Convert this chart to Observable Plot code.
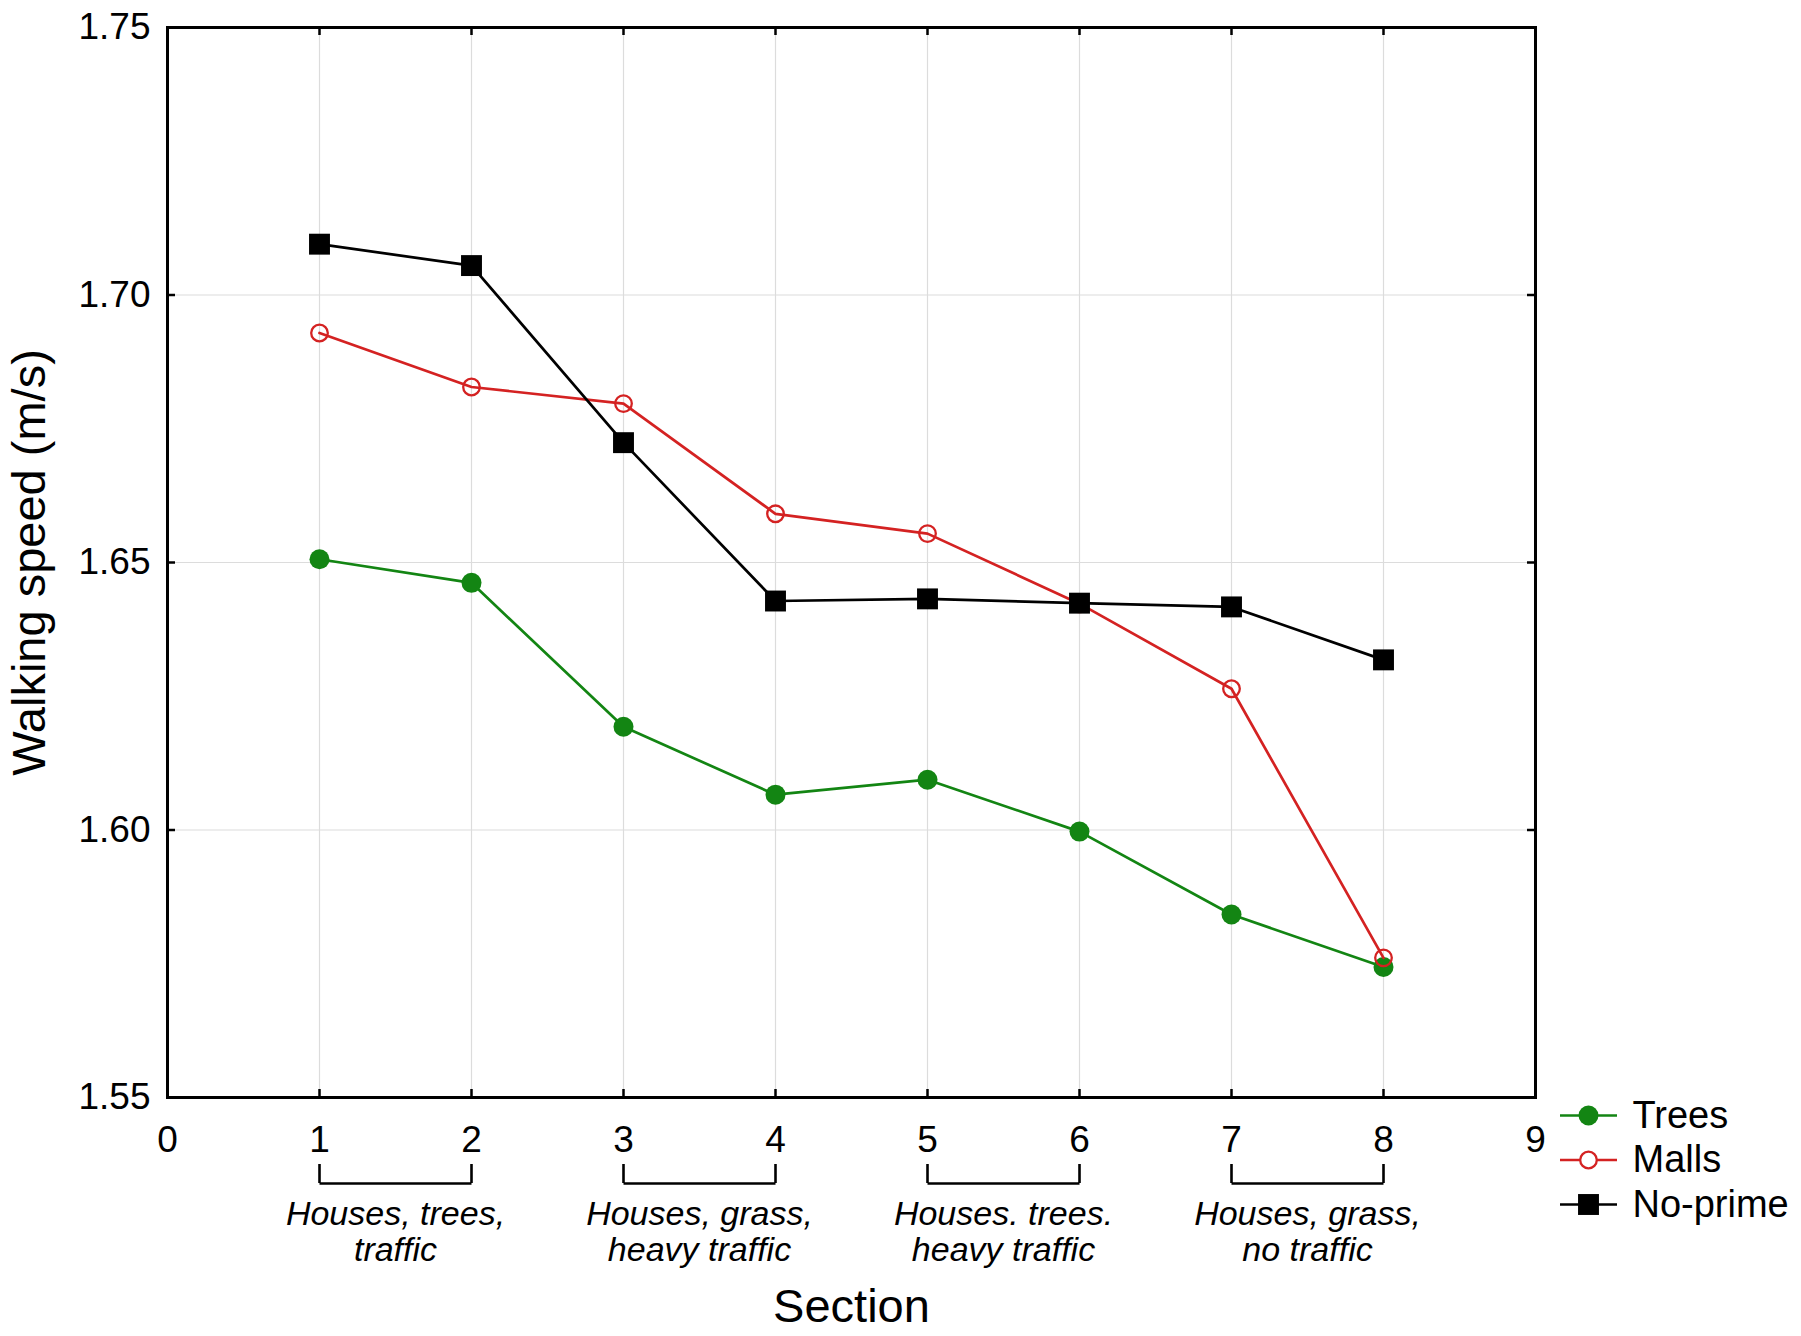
<!DOCTYPE html>
<html>
<head>
<meta charset="utf-8">
<script src="https://cdn.jsdelivr.net/npm/d3@7"></script>
<script src="https://cdn.jsdelivr.net/npm/@observablehq/plot@0.6"></script>
<style>
  html, body { margin: 0; padding: 0; background: #fff; }
</style>
</head>
<body>
<div id="chart"></div>
<script>
// ---- data ----
const sections = [1, 2, 3, 4, 5, 6, 7, 8];
const trees   = [1.6506, 1.6462, 1.6193, 1.6066, 1.6094, 1.5997, 1.5842, 1.5744];
const malls   = [1.6929, 1.6828, 1.6797, 1.6591, 1.6554, 1.6423, 1.6264, 1.5761];
const noPrime = [1.7095, 1.7055, 1.6724, 1.6428, 1.6432, 1.6424, 1.6417, 1.6318];
const seriesNames = ["Trees", "Malls", "No-prime"];
const xTicks = [0, 1, 2, 3, 4, 5, 6, 7, 8, 9];
const yTicks = [1.55, 1.60, 1.65, 1.70, 1.75];
const yGrid = [1.60, 1.65, 1.70];
const xGrid = [1, 2, 3, 4, 5, 6, 7, 8];
const groupFrom = [1, 3, 5, 7];
const groupTo = [2, 4, 6, 8];
const groupLabels = [
  "Houses, trees,\ntraffic",
  "Houses, grass,\nheavy traffic",
  "Houses. trees.\nheavy traffic",
  "Houses, grass,\nno traffic"
];
const xLabel = "Section";
const yLabel = "Walking speed (m/s)";

// ---- layout & styles ----
const W = 1801, H = 1336;
const mL = 167, mR = 266, mT = 27, mB = 239;
const fw = W - mL - mR, fh = H - mT - mB;
const FONT = "'Liberation Sans', Arial, Helvetica, sans-serif";
const seriesValues = [trees, malls, noPrime];
const seriesStyle = [
  {color: "#138513", symbol: "circle", fill: "#138513", r: 10, sw: 0},
  {color: "#d42222", symbol: "circle", fill: "none", r: 8.3, sw: 2.3},
  {color: "#000000", symbol: "square", fill: "#000000", r: 11.8, sw: 0}
];

const rows = seriesNames.map((name, i) =>
  sections.map((s, j) => ({series: name, section: s, speed: seriesValues[i][j]})));

const marks = [];

// grid
marks.push(Plot.ruleX(xGrid, {x: d => d, stroke: "#dcdcdc", strokeWidth: 1.2}));
marks.push(Plot.ruleY(yGrid, {y: d => d, stroke: "#dcdcdc", strokeWidth: 1.2}));

// series
rows.forEach((data, i) => {
  const st = seriesStyle[i];
  marks.push(Plot.line(data, {x: "section", y: "speed", stroke: st.color, strokeWidth: 2.7}));
  marks.push(Plot.dot(data, {
    x: "section", y: "speed", symbol: st.symbol, r: st.r,
    fill: st.fill, stroke: st.fill === "none" ? st.color : null, strokeWidth: st.sw
  }));
});

// frame and inward ticks
marks.push(Plot.frame({stroke: "#000", strokeWidth: 3}));
marks.push(Plot.tickX(xTicks, {x: d => d, insetTop: fh - 8, stroke: "#000", strokeWidth: 2.5}));
marks.push(Plot.tickX(xTicks, {x: d => d, insetBottom: fh - 8, stroke: "#000", strokeWidth: 2.5}));
marks.push(Plot.tickY(yTicks, {y: d => d, insetRight: fw - 8, stroke: "#000", strokeWidth: 2.5}));
marks.push(Plot.tickY(yTicks, {y: d => d, insetLeft: fw - 8, stroke: "#000", strokeWidth: 2.5}));

// axes
marks.push(Plot.axisX(xTicks, {anchor: "bottom", tickSize: 0, tickPadding: 28, fontSize: 37, label: null, tickFormat: d3.format("d")}));
marks.push(Plot.axisY(yTicks, {anchor: "left", tickSize: 0, tickPadding: 17, fontSize: 37, label: null, tickFormat: d3.format(".2f")}));

// axis titles
marks.push(Plot.text([xLabel], {frameAnchor: "bottom", dy: 209, fontSize: 47, textAnchor: "middle", lineAnchor: "middle", fill: "#000"}));
marks.push(Plot.text([yLabel], {frameAnchor: "left", dx: -138, rotate: -90, fontSize: 47, textAnchor: "middle", lineAnchor: "middle", fill: "#000"}));

// section group brackets and labels
const groupIdx = groupFrom.map((_, i) => i);
marks.push(Plot.tickX([...groupFrom, ...groupTo], {x: d => d, insetTop: fh + 67, insetBottom: -86, stroke: "#000", strokeWidth: 2.6}));
marks.push(Plot.link(groupIdx, {x1: i => groupFrom[i], x2: i => groupTo[i], y1: () => yTicks[0], y2: () => yTicks[0], dy: 86, stroke: "#000", strokeWidth: 2.6}));
marks.push(Plot.text(groupIdx, {
  x: i => (groupFrom[i] + groupTo[i]) / 2, frameAnchor: "bottom", text: i => groupLabels[i],
  dy: 134, textAnchor: "middle", lineAnchor: "middle", fontStyle: "italic", fontSize: 34, lineHeight: 1.06, fill: "#000"
}));

// legend (right of the frame, below it)
seriesNames.forEach((name, i) => {
  const st = seriesStyle[i];
  const dy = 18 + 44.5 * i;
  marks.push(Plot.tickY([yTicks[0]], {y: d => d, dy, insetLeft: fw + 25, insetRight: -82, stroke: st.color, strokeWidth: 2.7}));
  marks.push(Plot.dot([name], {frameAnchor: "bottom-right", dx: 53, dy, symbol: st.symbol, r: st.r,
    fill: st.fill === "none" ? "#fff" : st.fill, stroke: st.fill === "none" ? st.color : null, strokeWidth: st.sw}));
  marks.push(Plot.text([name], {frameAnchor: "bottom-right", dx: 97, dy, textAnchor: "start", lineAnchor: "middle", fontSize: 38, fill: "#000"}));
});

const chart = Plot.plot({
  width: W, height: H,
  marginLeft: mL, marginRight: mR, marginTop: mT, marginBottom: mB,
  x: {domain: [0, 9]},
  y: {domain: [1.55, 1.75]},
  style: {fontFamily: FONT, background: "#fff", color: "#000", overflow: "visible"},
  marks
});
document.getElementById("chart").appendChild(chart);
</script>
</body>
</html>
